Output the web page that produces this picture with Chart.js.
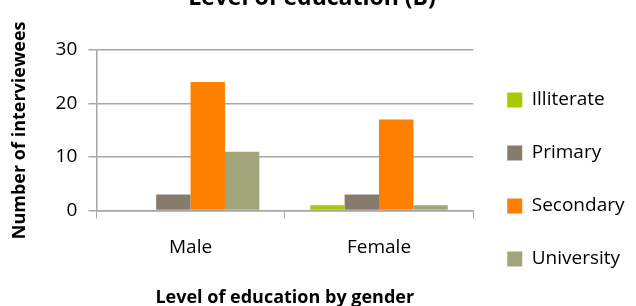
<!doctype html>
<html lang="en">
<head>
  <meta charset="utf-8">
  <title>Level of education (B)</title>
  <style>
    html, body { margin: 0; padding: 0; background: #fff; }
    #wrap { width: 636px; height: 306px; }
  </style>
</head>
<body>
  <div id="wrap"><canvas id="chart"></canvas></div>

  <script src="https://cdn.jsdelivr.net/npm/chart.js@4/dist/chart.umd.min.js"></script>
  <script>
  const categories = ['Male', 'Female'];
  const illiterate = [0, 1];
  const primary = [3, 3];
  const secondary = [24, 17];
  const university = [11, 1];
  const yTicks = [0, 10, 20, 30];

  const font = '"Open Sans", "Noto Sans", sans-serif';

  // title sits partly above the canvas in the original picture
  const clippedTitle = {
    id: 'clippedTitle',
    afterDraw(chart) {
      const ctx = chart.ctx;
      ctx.save();
      ctx.font = 'bold 23px ' + font;
      ctx.fillStyle = '#000';
      ctx.textAlign = 'center';
      ctx.textBaseline = 'alphabetic';
      ctx.fillText('Level of education (B)', 312, 5);
      ctx.restore();
    }
  };

  const ctx = document.getElementById('chart').getContext('2d');
  new Chart(ctx, {
    type: 'bar',
    data: {
      labels: categories,
      datasets: [
        { label: 'Illiterate', data: illiterate, backgroundColor: '#a5cb00' },
        { label: 'Primary', data: primary, backgroundColor: '#877c6c' },
        { label: 'Secondary', data: secondary, backgroundColor: '#ff7f00' },
        { label: 'University', data: university, backgroundColor: '#a2a57a' }
      ]
    },
    options: {
      responsive: true,
      maintainAspectRatio: false,
      animation: false,
      layout: { padding: { top: 50, right: 8, bottom: -3, left: 9 } },
      datasets: { bar: { categoryPercentage: 0.73, barPercentage: 1, borderWidth: 0 } },
      plugins: {
        tooltip: { enabled: false },
        legend: {
          position: 'right',
          labels: {
            boxWidth: 15,
            boxHeight: 15,
            padding: 34,
            color: '#000',
            font: { family: font, size: 19 }
          }
        }
      },
      scales: {
        x: {
          grid: {
            drawOnChartArea: false,
            drawTicks: true,
            tickLength: 8,
            color: '#a6a6a6',
            offset: true
          },
          border: { color: '#a6a6a6', width: 1.5 },
          ticks: { color: '#000', font: { family: font, size: 19 }, padding: 18 },
          title: {
            display: true,
            text: 'Level of education by gender',
            color: '#000',
            font: { family: font, size: 18, weight: 'bold' },
            padding: { top: 10, bottom: 0 }
          }
        },
        y: {
          min: 0,
          max: 30,
          afterBuildTicks(axis) { axis.ticks = yTicks.map(v => ({ value: v })); },
          grid: { color: '#a6a6a6', lineWidth: 1.5, tickLength: 8 },
          border: { color: '#a6a6a6', width: 1.5 },
          ticks: { color: '#000', font: { family: font, size: 19 }, padding: 11 },
          title: {
            display: true,
            text: 'Number of interviewees',
            color: '#000',
            font: { family: font, size: 18, weight: 'bold' },
            padding: { top: 0, bottom: 14 }
          }
        }
      }
    },
    plugins: [clippedTitle]
  });
  </script>
</body>
</html>
